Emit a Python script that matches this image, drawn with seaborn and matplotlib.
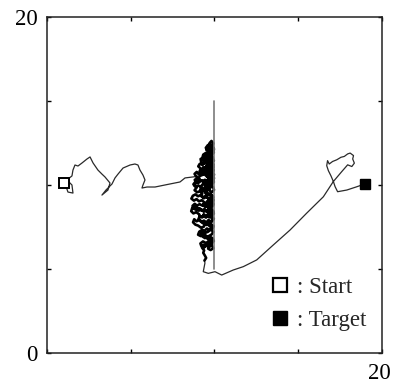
import numpy as np
import pandas as pd
import matplotlib
matplotlib.use("Agg")
import matplotlib.pyplot as plt
from matplotlib.lines import Line2D
from matplotlib.transforms import ScaledTranslation
import seaborn as sns

# ---------------- data ----------------
start_pt = (1.0, 10.1)
target_pt = (19.0, 10.05)
wall_x = [10.0, 10.0]
wall_y = [5.0, 15.0]

left_path = [
    (0.96, 10.18), (1.25, 10.24), (1.49, 10.00), (1.55, 9.52), (1.25, 9.58), (1.13, 9.94),
    (1.19, 10.30), (1.49, 10.54), (1.55, 10.89), (1.67, 11.19), (1.85, 11.13), (2.09, 11.31),
    (2.39, 11.55), (2.57, 11.67), (2.75, 11.31), (3.04, 10.89), (3.28, 10.65), (3.46, 10.48),
    (3.76, 10.12), (3.64, 9.70), (3.28, 9.40), (3.52, 9.70), (3.88, 10.06), (4.06, 10.42),
    (4.24, 10.65), (4.54, 11.01), (4.96, 11.19), (5.25, 11.25), (5.43, 11.19), (5.55, 10.89),
    (5.73, 10.59), (5.85, 10.30), (5.73, 10.00), (5.67, 9.82), (5.97, 9.88), (6.45, 9.88),
    (7.04, 10.00), (7.64, 10.12), (7.94, 10.18), (8.24, 10.42), (8.72, 10.48), (9.13, 10.54),
]

tangle_a = [
    (9.13, 10.54), (9.30, 10.61), (9.38, 10.79), (9.25, 10.88), (9.33, 11.05), (9.51, 11.00),
    (9.58, 10.83), (9.49, 10.68), (9.66, 10.59), (9.71, 10.77), (9.88, 10.81), (9.93, 10.99),
    (9.78, 11.10), (9.69, 11.27), (9.85, 11.36), (9.95, 11.21), (9.87, 11.05), (9.69, 11.01),
    (9.55, 11.14), (9.62, 11.33), (9.47, 11.44), (9.38, 11.29), (9.21, 11.35), (9.17, 11.55),
    (9.34, 11.62), (9.42, 11.79), (9.61, 11.75), (9.57, 11.58), (9.73, 11.52), (9.91, 11.61),
    (9.84, 11.79), (9.96, 11.93), (9.81, 12.04), (9.66, 11.96), (9.52, 12.07), (9.59, 12.25),
    (9.74, 12.31), (9.71, 12.50), (9.82, 12.62), (9.93, 12.48), (9.87, 12.29), (9.97, 12.14),
    (9.83, 12.19), (9.69, 12.11), (9.77, 11.93), (9.64, 11.82), (9.47, 11.90), (9.33, 11.81),
    (9.28, 11.63), (9.44, 11.52), (9.63, 11.45), (9.79, 11.57), (9.94, 11.43), (9.82, 11.26),
    (9.61, 11.21), (9.46, 11.07), (9.35, 10.92), (9.52, 10.85), (9.71, 10.93), (9.86, 10.69),
    (9.74, 10.53), (9.92, 10.44), (9.97, 10.63), (9.81, 10.58), (9.65, 10.43), (9.72, 10.26),
    (9.57, 10.17), (9.43, 10.31), (9.29, 10.22), (9.38, 10.04), (9.56, 9.98), (9.68, 10.11),
    (9.85, 10.03), (9.96, 10.18), (9.88, 10.35), (9.71, 10.42), (9.54, 10.51), (9.41, 10.63),
    (9.24, 10.71), (9.06, 10.64), (8.94, 10.78), (8.81, 10.66), (8.92, 10.49), (9.09, 10.41),
    (9.16, 10.23), (9.02, 10.11), (8.86, 10.19), (8.74, 10.04), (8.88, 9.91), (9.05, 9.96),
    (9.21, 9.87), (9.14, 9.69), (9.31, 9.63), (9.47, 9.72), (9.42, 9.89), (9.59, 9.94),
    (9.76, 9.86), (9.69, 9.68), (9.84, 9.57), (9.97, 9.71), (9.91, 9.89), (9.78, 10.01),
    (9.62, 9.82),
]

tangle_b = [
    (9.51, 9.61), (9.63, 9.47), (9.81, 9.41), (9.93, 9.27), (9.79, 9.13), (9.62, 9.21),
    (9.48, 9.36), (9.33, 9.27), (9.19, 9.41), (9.02, 9.33), (8.86, 9.44), (8.71, 9.36),
    (8.62, 9.19), (8.77, 9.07), (8.93, 9.16), (9.07, 9.03), (9.24, 9.09), (9.39, 8.97),
    (9.32, 8.79), (9.47, 8.68), (9.61, 8.81), (9.78, 8.74), (9.94, 8.87), (9.86, 9.04),
    (9.71, 9.11), (9.55, 9.02), (9.49, 8.86), (9.64, 8.63), (9.81, 8.57), (9.95, 8.42),
    (9.83, 8.27), (9.66, 8.36), (9.52, 8.49), (9.36, 8.41), (9.21, 8.54), (9.06, 8.47),
    (8.98, 8.64), (8.83, 8.72), (8.67, 8.63), (8.61, 8.44), (8.74, 8.31), (8.91, 8.38),
    (9.08, 8.26), (9.17, 8.09), (9.34, 8.17), (9.49, 8.06), (9.63, 8.18), (9.79, 8.09),
    (9.93, 7.96), (9.81, 7.83), (9.64, 7.91), (9.51, 7.77), (9.37, 7.88), (9.22, 7.79),
    (9.08, 7.91), (8.93, 7.84), (8.79, 7.96), (8.72, 7.78), (8.86, 7.64), (9.03, 7.58),
    (9.19, 7.46), (9.36, 7.52), (9.43, 7.69), (9.61, 7.64), (9.76, 7.51), (9.94, 7.57),
    (9.87, 7.38), (9.71, 7.31), (9.55, 7.41), (9.41, 7.28), (9.26, 7.33), (9.09, 7.22),
    (9.02, 7.04), (9.18, 6.96), (9.34, 7.08), (9.49, 6.99), (9.57, 6.82), (9.73, 6.91),
    (9.89, 6.83), (9.96, 6.66), (9.81, 6.58), (9.64, 6.63), (9.48, 6.55), (9.31, 6.64),
    (9.16, 6.52), (9.22, 6.35), (9.39, 6.29), (9.53, 6.41), (9.69, 6.33), (9.84, 6.41),
    (9.93, 6.24), (9.77, 6.13),
]

tangle_c = [
    (9.62, 6.21), (9.71, 6.39), (9.86, 6.52), (9.77, 6.71), (9.61, 6.77), (9.66, 6.96),
    (9.82, 7.05), (9.93, 7.21), (9.79, 7.34), (9.86, 7.52), (9.72, 7.66), (9.83, 7.83),
    (9.96, 7.99), (9.84, 8.14), (9.69, 8.07), (9.57, 8.23), (9.72, 8.36), (9.61, 8.52),
    (9.79, 8.63), (9.92, 8.79), (9.77, 8.92), (9.63, 9.05), (9.71, 9.24), (9.88, 9.33),
    (9.74, 9.49), (9.58, 9.41), (9.44, 9.53), (9.57, 9.69), (9.43, 9.81), (9.29, 9.74),
    (9.18, 9.91), (9.33, 10.08), (9.49, 10.02), (9.63, 10.15), (9.81, 10.12), (9.92, 10.28),
    (9.79, 10.43), (9.64, 10.35), (9.57, 10.54), (9.71, 10.66), (9.62, 10.84), (9.78, 10.96),
    (9.94, 11.07), (9.83, 11.22), (9.67, 11.14), (9.52, 11.25), (9.57, 11.43), (9.73, 11.38),
    (9.88, 11.51), (9.76, 11.67), (9.58, 11.63), (9.49, 11.79), (9.62, 11.91), (9.79, 11.84),
    (9.91, 12.01), (9.76, 12.13), (9.62, 12.07), (9.48, 12.21), (9.61, 12.38), (9.77, 12.41),
    (9.91, 12.27), (9.96, 12.07), (9.86, 11.91), (9.71, 11.71), (9.87, 11.63), (9.96, 11.45),
    (9.82, 11.41), (9.66, 11.52), (9.48, 11.61), (9.31, 11.52), (9.42, 11.37), (9.29, 11.19),
    (9.12, 11.26), (9.03, 11.11), (9.18, 10.98), (9.11, 10.81), (9.28, 10.74), (9.44, 10.83),
    (9.62, 10.71), (9.78, 10.79), (9.95, 10.88), (9.87, 10.56), (9.71, 10.49), (9.83, 10.33),
    (9.97, 10.41),
]

tangle_d = [
    (9.86, 10.24), (9.71, 10.17), (9.53, 10.26), (9.39, 10.14), (9.24, 10.28), (9.07, 10.23),
    (8.96, 10.38), (8.82, 10.31), (8.91, 10.14), (8.79, 9.98), (8.93, 9.84), (8.81, 9.69),
    (8.96, 9.57), (9.12, 9.62), (9.27, 9.51), (9.21, 9.33), (9.36, 9.21), (9.52, 9.29),
    (9.66, 9.18), (9.82, 9.26), (9.95, 9.11), (9.87, 8.94), (9.69, 8.96), (9.57, 8.83),
    (9.41, 8.91), (9.26, 8.78), (9.11, 8.86), (8.96, 8.77), (8.82, 8.88), (8.69, 8.76),
    (8.78, 8.58), (8.94, 8.51), (9.11, 8.62), (9.24, 8.47), (9.39, 8.56), (9.53, 8.42),
    (9.68, 8.51), (9.84, 8.42), (9.96, 8.29), (9.82, 8.16), (9.66, 8.24), (9.52, 8.13),
    (9.36, 8.26), (9.27, 8.07), (9.12, 8.14), (9.04, 7.97), (9.19, 7.86), (9.33, 7.71),
    (9.51, 7.62), (9.66, 7.74), (9.81, 7.67), (9.91, 7.49), (9.78, 7.39), (9.62, 7.22),
    (9.47, 7.16), (9.33, 7.23), (9.21, 7.11), (9.29, 6.93), (9.43, 6.84), (9.58, 6.92),
    (9.71, 6.81), (9.86, 6.74), (9.79, 6.56), (9.63, 6.49), (9.49, 6.37), (9.34, 6.44),
    (9.26, 6.26), (9.38, 6.11), (9.33, 5.96), (9.42, 5.81), (9.50, 5.66), (9.40, 5.50),
]

right_path = [
    (9.40, 5.50),
    (9.43, 5.36), (9.33, 4.84), (9.63, 4.74), (10.03, 4.84), (10.43, 4.64), (11.12, 4.94),
    (11.72, 5.14), (12.52, 5.54), (13.51, 6.43), (14.51, 7.32), (15.50, 8.32), (16.50, 9.30),
    (17.09, 10.20), (17.6, 10.8), (17.95, 11.2), (18.2, 11.1), (18.35, 11.3), (18.25, 11.55),
    (18.3, 11.75), (18.1, 11.9), (17.95, 11.85), (17.75, 11.7), (17.55, 11.65), (17.3, 11.5),
    (17.05, 11.4), (16.85, 11.25), (16.75, 11.45), (16.7, 11.15), (16.8, 10.85), (16.95, 10.55),
    (17.1, 10.2), (17.2, 9.9), (17.35, 9.6), (17.9, 9.7), (18.45, 9.88), (18.8, 10.0),
]

tick_vals = [0, 5, 10, 15, 20]
x_tick_labels = ["", "", "", "", "20"]
y_tick_labels = ["0", "", "", "", "20"]
legend_labels = [": Start", ": Target"]

# ---------------- plot ----------------
sns.set_style("ticks")
plt.rcParams["font.family"] = ["Liberation Serif", "DejaVu Serif"]

df_left = pd.DataFrame(left_path, columns=["x", "y"])
df_right = pd.DataFrame(right_path, columns=["x", "y"])
tangle_df = pd.DataFrame(tangle_a + tangle_b + tangle_c + tangle_d, columns=["x", "y"])

fig = plt.figure(figsize=(3.93, 3.81), dpi=100)
ax = fig.add_axes([0.1196, 0.0735, 0.8524, 0.8819])

thin = dict(sort=False, estimator=None, ax=ax, color="#2a2a2a", lw=0.9)
sns.lineplot(data=df_left, x="x", y="y", **thin)
sns.lineplot(data=df_right, x="x", y="y", **thin)

# the dense, near-solid tangle in front of the wall
sns.lineplot(data=tangle_df, x="x", y="y", sort=False, estimator=None, ax=ax,
             color="#000000", lw=1.9)

sns.lineplot(x=wall_x, y=wall_y, sort=False, estimator=None, ax=ax,
             color="#7a7a7a", lw=1.2)

ax.plot([start_pt[0]], [start_pt[1]], marker="s", ms=7, mfc="white", mec="black", mew=1.4, ls="none")
ax.plot([target_pt[0]], [target_pt[1]], marker="s", ms=7, mfc="black", mec="black", ls="none")

ax.set_xlim(0, 20)
ax.set_ylim(0, 20)
ax.set_xticks(tick_vals)
ax.set_yticks(tick_vals)
ax.set_xticklabels(x_tick_labels)
ax.set_yticklabels(y_tick_labels)
ax.tick_params(direction="in", length=3, width=1, top=True, right=True,
               labelsize=16.5, colors="black", pad=7)
ax.set_xlabel("")
ax.set_ylabel("")
for s in ax.spines.values():
    s.set_visible(True)
    s.set_linewidth(1.1)
    s.set_color("#222222")

# nudge the last x label a little so it stays inside the image
lbl = ax.get_xticklabels()[-1]
lbl.set_transform(lbl.get_transform() + ScaledTranslation(-3 / 100, 0, fig.dpi_scale_trans))

handles = [
    Line2D([], [], marker="s", ls="none", ms=10.5, mfc="white", mec="black", mew=1.6),
    Line2D([], [], marker="s", ls="none", ms=10.5, mfc="black", mec="black"),
]
ax.legend(handles, legend_labels, loc="upper left", bbox_to_anchor=(0.667, 0.227),
          frameon=False, fontsize=16.5, handlelength=0.8, handletextpad=0.35,
          borderpad=0, borderaxespad=0, labelspacing=0.52)

fig.savefig("out.png", dpi=100)
